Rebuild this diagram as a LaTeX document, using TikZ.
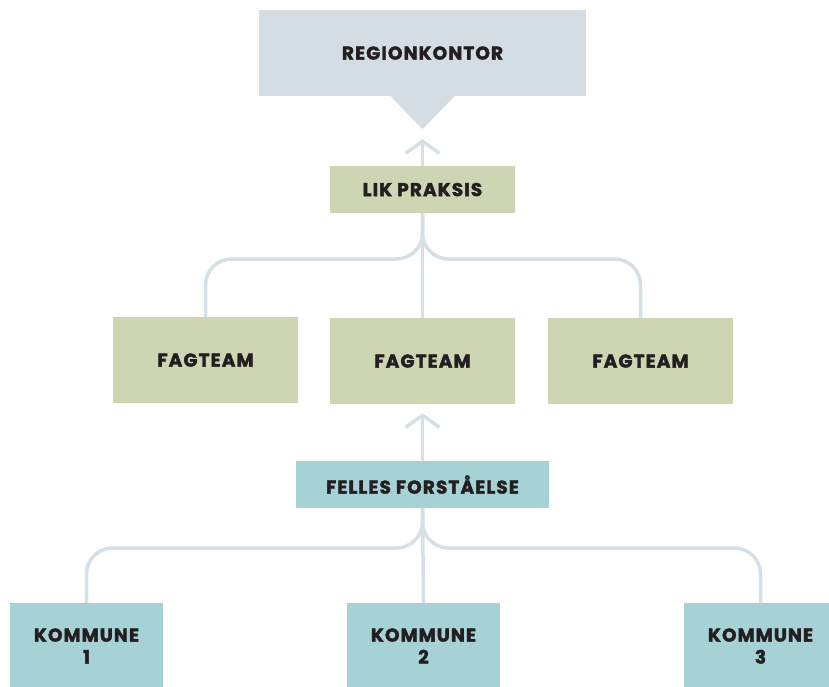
\documentclass[tikz,border=0pt]{standalone}
\usepackage{fontspec}
\setmainfont{Poppins}[LetterSpace=6, BoldFeatures={FakeBold=2}]
\usetikzlibrary{arrows.meta}

\definecolor{regblue}{HTML}{D3DDE3}
\definecolor{olivebox}{HTML}{CED5B2}
\definecolor{tealbox}{HTML}{A7D2D5}
\definecolor{linkgray}{HTML}{D5DFE6}
\definecolor{inkdark}{HTML}{231F20}

\tikzset{
  box/.style={inner sep=0pt, align=center, text=inkdark, text depth=0pt,
    font=\fontsize{18.5}{22}\selectfont\bfseries},
  link/.style={draw=linkgray, line width=3.5pt, rounded corners=26pt},
  uparrow/.style={link, -{Straight Barb[length=12pt, width=34pt, line width=3.5pt]}},
}

\begin{document}
\begin{tikzpicture}[x=1pt, y=-1pt]
  \clip (0,0) rectangle (829,687);

  % region office with pointer
  \node[box, fill=regblue, minimum width=327pt, minimum height=86pt]
    (reg) at (422.5,53) {REGIONKONTOR};
  \fill[regblue] ([xshift=-32pt]reg.south) -- ([yshift=-33pt]reg.south)
    -- ([xshift=32pt]reg.south) -- cycle;

  \node[box, fill=olivebox, minimum width=185pt, minimum height=47pt]
    (lik) at (422.5,189.5) {LIK PRAKSIS};

  \node[box, fill=olivebox, minimum width=185pt, minimum height=86pt]
    (fag1) at (205.5,360) {FAGTEAM};
  \node[box, fill=olivebox, minimum width=185pt, minimum height=86pt]
    (fag2) at (422.5,361) {FAGTEAM};
  \node[box, fill=olivebox, minimum width=185pt, minimum height=86pt]
    (fag3) at (640.5,361) {FAGTEAM};

  \node[box, fill=tealbox, minimum width=253pt, minimum height=47pt]
    (felles) at (422.5,484.5) {FELLES FORSTÅELSE};

  \node[box, fill=tealbox, minimum width=153pt, minimum height=86pt]
    (kom1) at (86.5,646) {KOMMUNE\\1};
  \node[box, fill=tealbox, minimum width=153pt, minimum height=86pt]
    (kom2) at (423.5,646) {KOMMUNE\\2};
  \node[box, fill=tealbox, minimum width=153pt, minimum height=86pt]
    (kom3) at (760.5,646) {KOMMUNE\\3};

  % levels of the branching lines
  \coordinate (bar1) at (0,259);
  \coordinate (bar2) at (0,548);

  % upper branches
  \draw[link] (lik.south) -- (lik.south |- bar1) -| (fag1.north);
  \draw[link] (lik.south) -- (lik.south |- bar1) -| (fag3.north);
  \draw[link] (lik.south) -- (fag2.north);

  % lower branches
  \draw[link] (felles.south) -- (felles.south |- bar2) -| (kom1.north);
  \draw[link] (felles.south) -- (felles.south |- bar2) -| (kom3.north);
  \draw[link] (felles.south) -- (kom2.north);

  % arrows up
  \draw[uparrow, shorten >=10pt] (lik.north) -- ([yshift=-33pt]reg.south);
  \draw[uparrow, shorten >=9pt] (felles.north) -- (fag2.south);
\end{tikzpicture}
\end{document}
